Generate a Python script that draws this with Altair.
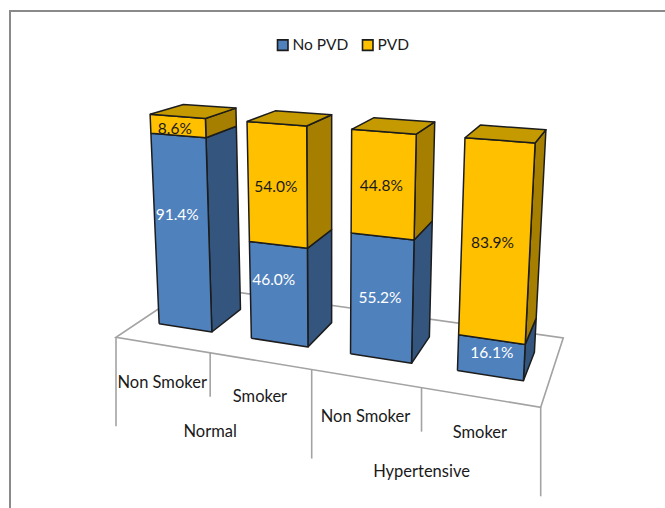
import altair as alt
import pandas as pd

# Share of each PVD status per blood-pressure / smoking group
groups = ["Normal", "Hypertensive"]
smoking = ["Non Smoker", "Smoker", "Non Smoker", "Smoker"]
no_pvd = [91.4, 46.0, 55.2, 16.1]
pvd = [8.6, 54.0, 44.8, 83.9]
series = ["No PVD", "PVD"]

W, H = 665, 508
FONT = "Lato"

# Perspective camera: world x = category slot, y = share 0..1, z = depth 0..1
ORIGIN = (116.0, 337.3)
X_AXIS = (86.52, 2.695)
Y_AXIS = (-17.2, -223.2)
Z_AXIS = (106.6, -7.0)
PERSPECTIVE = (-0.03635, -0.052, 0.155)

BAR_X = (0.21, 0.79)
BAR_Z = (0.29, 0.71)

FRONT = {"No PVD": "#4F81BD", "PVD": "#FFC000"}
SIDE = {"No PVD": "#34557D", "PVD": "#A67F00"}
TOP = {"PVD": "#C49A00"}
EDGE = "#1c1c1c"
GRID = "#a3a3a3"
FRAME = "#8a8a8a"


def project(x, y, z):
    w = 1 + PERSPECTIVE[0] * x + PERSPECTIVE[1] * y + PERSPECTIVE[2] * z
    sx = ORIGIN[0] + X_AXIS[0] * x + Y_AXIS[0] * y + Z_AXIS[0] * z
    sy = ORIGIN[1] + X_AXIS[1] * x + Y_AXIS[1] * y + Z_AXIS[1] * z
    return sx / w, sy / w


faces = []


def add_face(shade, corners):
    pid = len(set(f["face"] for f in faces))
    for k, corner in enumerate(corners + corners[:1]):
        sx, sy = project(*corner)
        faces.append({"face": pid, "vertex": k, "sx": sx, "sy": sy, "shade": shade})


labels = []
# Small shifts of the value labels away from the centre of their front face
label_shift = [
    [(-4.5, -19.0), (-3.0, 3.0)],
    [(-5.0, -14.0), (-1.5, 1.5)],
    [(-1.5, -0.5), (-1.5, 1.5)],
    [(1.0, -5.0), (-3.0, 1.0)],
]

for i, (a, b) in enumerate(zip(no_pvd, pvd)):
    x0, x1 = i + BAR_X[0], i + BAR_X[1]
    z0, z1 = BAR_Z
    lo = 0.0
    for j, (name, value) in enumerate(zip(series, (a, b))):
        hi = lo + value / 100
        add_face("side " + name, [(x1, lo, z0), (x1, lo, z1), (x1, hi, z1), (x1, hi, z0)])
        add_face(name, [(x0, lo, z0), (x1, lo, z0), (x1, hi, z0), (x0, hi, z0)])
        cx, cy = project(i + 0.5, (lo + hi) / 2, z0)
        labels.append({
            "text": f"{value:.1f}%",
            "sx": cx + label_shift[i][j][0],
            "sy": cy + label_shift[i][j][1],
            "ink": "#ffffff" if name == "No PVD" else "#1a1a1a",
        })
        lo = hi
    add_face("top PVD", [(x0, 1, z0), (x1, 1, z0), (x1, 1, z1), (x0, 1, z1)])

faces_df = pd.DataFrame(faces)
labels_df = pd.DataFrame(labels)

# Floor outline, then the two-level category dividers under its front edge
floor_corners = [(0, 0, 1), (4, 0, 1), (4, 0, 0), (0, 0, 0), (0, 0, 1)]
floor_df = pd.DataFrame(
    [{"vertex": k, "sx": project(*c)[0], "sy": project(*c)[1]} for k, c in enumerate(floor_corners)]
)

SHORT_DIVIDER, LONG_DIVIDER = 44, 89
divider_rows = []
for slot in range(5):
    sx, sy = project(slot, 0, 0)
    length = LONG_DIVIDER if slot % 2 == 0 else SHORT_DIVIDER
    divider_rows.append({"sx": sx, "sy": sy, "sy2": sy + length})
dividers_df = pd.DataFrame(divider_rows)

CATEGORY_DROP = {"Non Smoker": 38.5, "Smoker": 35.5}
GROUP_DROP = {"Normal": 79.5, "Hypertensive": 84}
axis_rows = []
for slot, name in enumerate(smoking):
    sx, sy = project(slot + 0.5, 0, 0)
    axis_rows.append({"text": name, "sx": sx, "sy": sy + CATEGORY_DROP[name]})
for g, name in enumerate(groups):
    sx, sy = project(2 * g + 1, 0, 0)
    axis_rows.append({"text": name, "sx": sx, "sy": sy + GROUP_DROP[name]})
axis_df = pd.DataFrame(axis_rows)

x_enc = alt.X("sx:Q", scale=alt.Scale(domain=[0, W], range=[0, W]), axis=None)
y_enc = alt.Y("sy:Q", scale=alt.Scale(domain=[H, 0], range=[H, 0]), axis=None)

frame_left = alt.Chart(pd.DataFrame({"sx": [10]})).mark_rule(color=FRAME, strokeWidth=2).encode(
    x=x_enc, y=alt.value(11), y2=alt.value(H)
)
frame_top = alt.Chart(pd.DataFrame({"sy": [11]})).mark_rule(color=FRAME, strokeWidth=2).encode(
    y=y_enc, x=alt.value(9), x2=alt.value(W)
)

floor = alt.Chart(floor_df).mark_line(color=GRID, strokeWidth=1.6).encode(
    x=x_enc, y=y_enc, order="vertex:Q"
)
dividers = alt.Chart(dividers_df).mark_rule(color=GRID, strokeWidth=1.6).encode(
    x=x_enc, y=y_enc, y2="sy2:Q"
)

shades = ["No PVD", "PVD", "side No PVD", "side PVD", "top PVD"]
shade_colours = [FRONT["No PVD"], FRONT["PVD"], SIDE["No PVD"], SIDE["PVD"], TOP["PVD"]]
bars = alt.Chart(faces_df).mark_line(
    stroke=EDGE, strokeWidth=1.5, strokeJoin="round"
).encode(
    x=x_enc,
    y=y_enc,
    order="vertex:Q",
    detail="face:N",
    fill=alt.Fill(
        "shade:N",
        scale=alt.Scale(domain=shades, range=shade_colours),
        legend=alt.Legend(
            title=None,
            values=series,
            orient="none",
            legendX=275,
            legendY=37,
            direction="horizontal",
            symbolType="square",
            symbolSize=110,
            symbolStrokeColor=EDGE,
            symbolStrokeWidth=1.6,
            labelFont=FONT,
            labelFontSize=15.5,
            labelColor="#1a1a1a",
            labelOffset=2,
            columnPadding=10,
        ),
    ),
)

value_text = alt.Chart(labels_df).mark_text(font=FONT, fontSize=15.5, baseline="middle").encode(
    x=x_enc, y=y_enc, text="text:N", color=alt.Color("ink:N", scale=None)
)
axis_text = alt.Chart(axis_df).mark_text(font=FONT, fontSize=16.5, color="#1a1a1a", baseline="middle").encode(
    x=x_enc, y=y_enc, text="text:N"
)

chart = (
    alt.layer(frame_left, frame_top, floor, dividers, bars, value_text, axis_text)
    .resolve_scale(color="independent")
    .properties(
        width=W,
        height=H,
        padding=0,
        autosize=alt.AutoSizeParams(type="none"),
        background="#ffffff",
    )
    .configure_view(stroke=None)
)

chart.save("out.html", embed_options={"renderer": "svg", "actions": False})
